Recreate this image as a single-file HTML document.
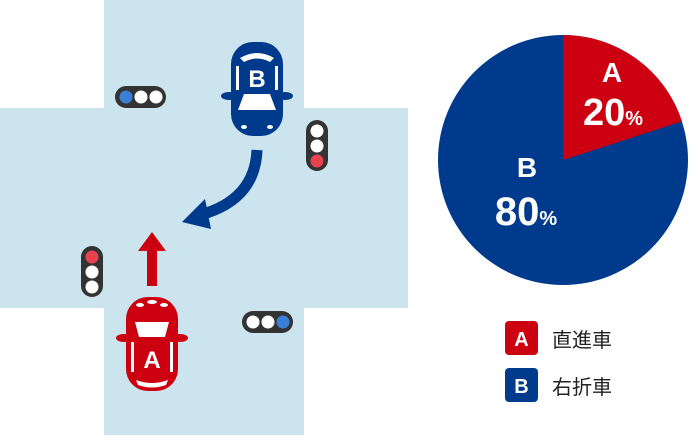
<!DOCTYPE html>
<html><head><meta charset="utf-8"><style>
body{margin:0;width:691px;height:435px;background:#fff;overflow:hidden}
</style></head><body>
<svg width="691" height="435" viewBox="0 0 691 435" xmlns="http://www.w3.org/2000/svg" font-family="Liberation Sans, Noto Sans CJK JP, sans-serif">
<rect x="104" y="0" width="200" height="435" fill="#cce4ee"/>
<rect x="0" y="108" width="408" height="200" fill="#cce4ee"/>
<rect x="115" y="86" width="51" height="22" rx="11" fill="#333"/>
<circle cx="126" cy="97" r="6.5" fill="#3a7fd5"/><circle cx="141" cy="97" r="6.5" fill="#fff"/><circle cx="156" cy="97" r="6.5" fill="#fff"/>
<rect x="306" y="120" width="22" height="51" rx="11" fill="#333"/>
<circle cx="317" cy="131" r="6.5" fill="#fff"/><circle cx="317" cy="146" r="6.5" fill="#fff"/><circle cx="317" cy="161" r="6.5" fill="#e8424f"/>
<rect x="81" y="246" width="22" height="51" rx="11" fill="#333"/>
<circle cx="92" cy="257" r="6.5" fill="#e8424f"/><circle cx="92" cy="272" r="6.5" fill="#fff"/><circle cx="92" cy="287" r="6.5" fill="#fff"/>
<rect x="242" y="311" width="51" height="22" rx="11" fill="#333"/>
<circle cx="253" cy="322" r="6.5" fill="#fff"/><circle cx="268" cy="322" r="6.5" fill="#fff"/><circle cx="283" cy="322" r="6.5" fill="#3a7fd5"/>
<path d="M257 150 Q255 200 200 215" stroke="#003a8c" stroke-width="11" fill="none"/>
<polygon points="182,222 205,199 211,229" fill="#003a8c"/>
<rect x="147" y="249" width="10" height="37" fill="#cc0010"/>
<polygon points="152,232 138,251 166,251" fill="#cc0010"/>
<g fill="#003a8c">
<rect x="231" y="42" width="52" height="94" rx="22"/>
<ellipse cx="229" cy="96" rx="8" ry="4"/><ellipse cx="285" cy="96" rx="8" ry="4"/>
</g>
<path d="M240 58 Q257 48 274 58 L270 62 Q257 55 244 62Z" fill="#fff"/>
<path d="M238 110 L276 110 L270 94 L244 94Z" fill="#fff"/>
<rect x="236" y="66" width="3" height="24" fill="#fff"/><rect x="275" y="66" width="3" height="24" fill="#fff"/>
<text x="257" y="87" font-size="24" font-weight="bold" fill="#fff" text-anchor="middle">B</text>
<ellipse cx="244" cy="127" rx="3" ry="2" fill="#fff"/><ellipse cx="270" cy="127" rx="3" ry="2" fill="#fff"/>
<g fill="#cc0010">
<rect x="126" y="297" width="52" height="94" rx="22"/>
<ellipse cx="124" cy="338" rx="8" ry="4"/><ellipse cx="180" cy="338" rx="8" ry="4"/>
</g>
<path d="M135 322 L169 322 L165 337 L139 337Z" fill="#fff"/>
<ellipse cx="140" cy="305" rx="4" ry="2" fill="#fff"/><ellipse cx="152" cy="302" rx="5" ry="2" fill="#fff"/><ellipse cx="164" cy="305" rx="4" ry="2" fill="#fff"/>
<rect x="131" y="342" width="3" height="30" fill="#fff"/><rect x="170" y="342" width="3" height="30" fill="#fff"/>
<path d="M136 380 Q152 386 168 380 L166 385 Q152 390 138 385Z" fill="#fff"/>
<text x="152" y="368" font-size="24" font-weight="bold" fill="#fff" text-anchor="middle">A</text>
<circle cx="563" cy="160" r="125" fill="#003a8c"/>
<path d="M563 160 L563 35 A125 125 0 0 1 682 121.4 Z" fill="#cc0010"/>
<g fill="#fff" font-weight="bold" text-anchor="middle">
<text x="612" y="82" font-size="28">A</text>
<text x="613" y="125" font-size="38">20<tspan font-size="20">%</tspan></text>
<text x="527" y="177" font-size="28">B</text>
<text x="526" y="225" font-size="40">80<tspan font-size="20">%</tspan></text>
</g>
<rect x="505" y="321" width="33" height="34" rx="4" fill="#cc0010"/>
<text x="521.5" y="346" font-size="20" font-weight="bold" fill="#fff" text-anchor="middle">A</text>
<text x="552" y="347" font-size="20" fill="#222">直進車</text>
<rect x="505" y="368" width="33" height="34" rx="4" fill="#003a8c"/>
<text x="521.5" y="393" font-size="20" font-weight="bold" fill="#fff" text-anchor="middle">B</text>
<text x="552" y="394" font-size="20" fill="#222">右折車</text>
</svg>
</body></html>
